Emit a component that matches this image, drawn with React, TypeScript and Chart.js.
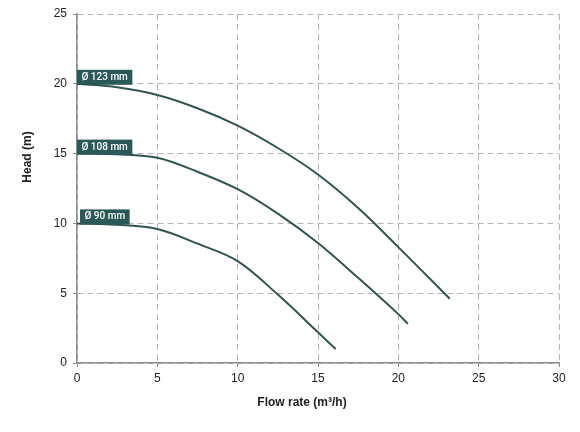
import React, { useRef, useEffect } from "react";
import { Chart, registerables } from "chart.js";

Chart.register(...registerables);

// Данные кривых (расход м³/ч -> напор м)
const flow123: number[] = [0, 2.5, 5, 7.5, 10, 12.5, 15, 17.5, 20, 23.2];
const head123: number[] = [20, 19.75, 19.2, 18.25, 17.0, 15.4, 13.5, 11.1, 8.3, 4.6];

const flow108: number[] = [0, 2.5, 5, 7.5, 10, 12.5, 15, 17.5, 20, 20.6];
const head108: number[] = [15, 14.95, 14.7, 13.7, 12.45, 10.7, 8.6, 6.1, 3.5, 2.8];

const flow90: number[] = [0, 2.5, 5, 7.5, 10, 12.5, 15, 16.1];
const head90: number[] = [10, 9.9, 9.6, 8.55, 7.3, 4.9, 2.2, 1.0];

const seriesLabels: string[] = ["Ø 123 mm", "Ø 108 mm", "Ø 90 mm"];
const xTitle = "Flow rate (m³/h)";
const yTitle = "Head (m)";

const LINE_COLOR = "#2f5553";
const BOX_COLOR = "#2b5858";

const toPoints = (xs: number[], ys: number[]) => xs.map((x, i) => ({ x, y: ys[i] }));

// Плашки с диаметром рабочего колеса у начала каждой кривой
const boxLabels = {
  id: "boxLabels",
  afterDatasetsDraw(chart: any) {
    const { ctx, scales } = chart;
    ctx.save();
    ctx.font = "500 10px Roboto";
    ctx.textBaseline = "middle";
    chart.data.datasets.forEach((ds: any, i: number) => {
      const p = ds.data[0];
      const x = scales.x.getPixelForValue(p.x) + (i === 2 ? 3 : 0);
      const bottom = scales.y.getPixelForValue(p.y) + 1;
      const text = seriesLabels[i];
      const w = ctx.measureText(text).width + 9;
      const h = 15;
      ctx.fillStyle = BOX_COLOR;
      ctx.fillRect(x, bottom - h, w, h);
      ctx.fillStyle = "#ffffff";
      ctx.fillText(text, x + 4.5, bottom - h / 2);
    });
    ctx.restore();
  },
};

// Подписи осей
const axisTitles = {
  id: "axisTitles",
  afterDraw(chart: any) {
    const { ctx, chartArea } = chart;
    ctx.save();
    ctx.font = "bold 12px 'Liberation Sans'";
    ctx.fillStyle = "#222";
    ctx.textAlign = "center";
    ctx.textBaseline = "middle";
    ctx.fillText(xTitle, chartArea.left + 225, chartArea.bottom + 40);
    ctx.translate(chartArea.left - 49, chartArea.top + 143);
    ctx.rotate(-Math.PI / 2);
    ctx.fillText(yTitle, 0, 0);
    ctx.restore();
  },
};

export default function App() {
  const chartRef = useRef<HTMLCanvasElement>(null);

  useEffect(() => {
    if (!chartRef.current) return;
    const ctx = chartRef.current.getContext("2d");
    if (!ctx) return;

    const lineDs = (xs: number[], ys: number[], label: string) => ({
      label,
      data: toPoints(xs, ys),
      borderColor: LINE_COLOR,
      borderWidth: 2,
      pointRadius: 0,
      tension: 0.35,
      fill: false,
    });

    const gridOpts = {
      color: "#b4b4b4",
      lineWidth: 1,
      tickLength: 4,
      tickColor: "#8c8c8c",
    };
    const tickFont = { family: "'Liberation Sans'", size: 12 };

    const chart = new Chart(ctx, {
      type: "line",
      data: {
        datasets: [
          lineDs(flow123, head123, seriesLabels[0]),
          lineDs(flow108, head108, seriesLabels[1]),
          lineDs(flow90, head90, seriesLabels[2]),
        ],
      },
      options: {
        animation: false,
        responsive: true,
        maintainAspectRatio: false,
        layout: { padding: { top: 14, right: 21, left: 0, bottom: 0 } },
        plugins: {
          legend: { display: false },
          tooltip: { enabled: false },
        },
        scales: {
          x: {
            type: "linear",
            min: 0,
            max: 30,
            ticks: { stepSize: 5, color: "#222", font: tickFont, padding: 4, maxRotation: 0 },
            grid: gridOpts,
            border: { color: "#8c8c8c", width: 1.5, dash: [6, 4] },
            afterFit: (scale: any) => {
              scale.height = 69;
            },
          },
          y: {
            type: "linear",
            min: 0,
            max: 25,
            ticks: { stepSize: 5, color: "#222", font: tickFont, padding: 6 },
            grid: gridOpts,
            border: { color: "#8c8c8c", width: 1.5, dash: [6, 4] },
            afterFit: (scale: any) => {
              scale.width = 77;
            },
          },
        },
      },
      plugins: [boxLabels, axisTitles],
    } as any);

    return () => chart.destroy();
  }, []);

  return (
    <div style={{ position: "absolute", left: 0, top: 0, width: 580, height: 432, background: "#fff" }}>
      <canvas ref={chartRef} />
    </div>
  );
}
